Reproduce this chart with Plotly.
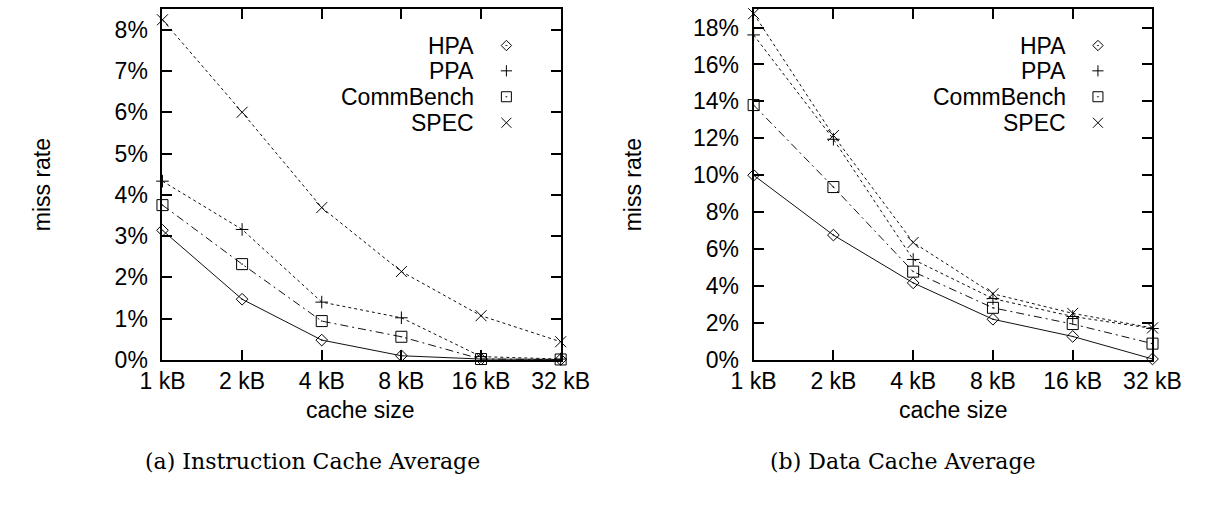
import plotly.graph_objects as go

# Cache sizes on the x axis
cache_sizes = ["1 kB", "2 kB", "4 kB", "8 kB", "16 kB", "32 kB"]

# Miss rates (%) - instruction cache average
icache_hpa = [3.14, 1.47, 0.48, 0.10, 0.02, 0.01]
icache_ppa = [4.33, 3.16, 1.40, 1.02, 0.08, 0.02]
icache_commbench = [3.75, 2.32, 0.94, 0.56, 0.02, 0.01]
icache_spec = [8.24, 6.00, 3.69, 2.14, 1.07, 0.44]

# Miss rates (%) - data cache average
dcache_hpa = [10.0, 6.76, 4.17, 2.20, 1.27, 0.05]
dcache_ppa = [17.6, 11.95, 5.44, 3.32, 2.35, 1.70]
dcache_commbench = [13.8, 9.36, 4.78, 2.82, 1.94, 0.88]
dcache_spec = [18.75, 12.15, 6.36, 3.58, 2.52, 1.73]

series_names = ["HPA", "PPA", "CommBench", "SPEC"]

# Y tick values (%)
icache_ticks = [0, 1, 2, 3, 4, 5, 6, 7, 8]
dcache_ticks = [0, 2, 4, 6, 8, 10, 12, 14, 16, 18]

FONT = "Liberation Sans, Arial, sans-serif"
SERIF = "DejaVu Serif, serif"
W, H = 1215, 505

styles = {
    "HPA": dict(symbol="diamond-open-dot", size=9, dash="solid"),
    "PPA": dict(symbol="cross-thin-open", size=9, dash="3px,3px"),
    "CommBench": dict(symbol="square-open-dot", size=11, dash="8px,4px,2px,4px"),
    "SPEC": dict(symbol="x-thin-open", size=11, dash="3px,3px"),
}

xpos = list(range(len(cache_sizes)))

fig = go.Figure()

panels = [
    ("x", "y", [icache_hpa, icache_ppa, icache_commbench, icache_spec]),
    ("x2", "y2", [dcache_hpa, dcache_ppa, dcache_commbench, dcache_spec]),
]

for xa, ya, data in panels:
    for name, vals in zip(series_names, data):
        st = styles[name]
        fig.add_trace(go.Scatter(
            x=xpos, y=vals, xaxis=xa, yaxis=ya, mode="lines+markers",
            name=name, showlegend=False, cliponaxis=False,
            line=dict(color="#111111", width=1, dash=st["dash"]),
            marker=dict(symbol=st["symbol"], size=st["size"], color="black",
                        line=dict(color="black", width=1)),
        ))

# Key: labels right-aligned, symbol to their right (pixel-space axis x3/y3)
key_rows_px = [46.7, 72.7, 99.3, 126.0]
key_panels = [(473, 505), (1092, 1123)]
for text_right, sym_x in key_panels:
    for name, row in zip(series_names, key_rows_px):
        st = styles[name]
        fig.add_trace(go.Scatter(
            x=[sym_x], y=[H - row], xaxis="x3", yaxis="y3", mode="markers",
            showlegend=False, cliponaxis=False, hoverinfo="skip",
            marker=dict(symbol=st["symbol"], size=st["size"] - 1, color="black",
                        line=dict(color="black", width=1)),
        ))
        fig.add_annotation(x=text_right, y=H - row, xref="x3", yref="y3",
                           text=name, showarrow=False, xanchor="right",
                           yanchor="middle", font=dict(family=FONT, size=23, color="black"))

axis_common = dict(
    showline=True, linecolor="black", linewidth=2, mirror="allticks",
    ticks="inside", ticklen=10, tickwidth=2, tickcolor="black",
    showgrid=False, zeroline=False,
    tickfont=dict(family=FONT, size=23, color="black"),
)

ydom = [1 - 369.4 / H, 1 - 9.3 / H]
xdom1 = [145.7 / W, 561.7 / W]
xdom2 = [763.3 / W, 1180.0 / W]

fig.update_layout(
    width=W, height=H,
    margin=dict(l=0, r=0, t=0, b=0),
    paper_bgcolor="white", plot_bgcolor="rgba(0,0,0,0)",
    showlegend=False,
    xaxis=dict(domain=xdom1, range=[0, 5], tickmode="array", tickvals=xpos,
               ticktext=cache_sizes, anchor="y", ticklabelstandoff=0, **axis_common),
    yaxis=dict(domain=ydom, range=[0, 8.5], tickmode="array", tickvals=icache_ticks,
               ticktext=[f"{v}%" for v in icache_ticks], anchor="x",
               ticklabelstandoff=8, **axis_common),
    xaxis2=dict(domain=xdom2, range=[0, 5], tickmode="array", tickvals=xpos,
                ticktext=cache_sizes, anchor="y2", ticklabelstandoff=0, **axis_common),
    yaxis2=dict(domain=ydom, range=[0, 19], tickmode="array", tickvals=dcache_ticks,
                ticktext=[f"{v}%" for v in dcache_ticks], anchor="x2",
                ticklabelstandoff=8, **axis_common),
    # full-figure pixel-space axes for the keys
    xaxis3=dict(domain=[0, 1], range=[0, W], visible=False, anchor="y3"),
    yaxis3=dict(domain=[0, 1], range=[0, H], visible=False, anchor="x3"),
)

# Axis titles and captions
for cx, cy, txt, ang in [
    (20, 190, "miss rate", -90),
    (637.5, 190, "miss rate", -90),
    (353, 421, "cache size", 0),
    (972, 421, "cache size", 0),
]:
    fig.add_annotation(x=cx / W, y=1 - cy / H, xref="paper", yref="paper",
                       text=txt, textangle=ang, showarrow=False,
                       xanchor="center", yanchor="middle",
                       font=dict(family=FONT, size=23, color="black"))

fig.add_annotation(x=125 / W, y=1 - 474 / H, xref="paper", yref="paper",
                   text="(a) Instruction Cache Average", showarrow=False,
                   xanchor="left", yanchor="middle",
                   font=dict(family=SERIF, size=22, color="black"))
fig.add_annotation(x=778 / W, y=1 - 474 / H, xref="paper", yref="paper",
                   text="(b) Data Cache Average", showarrow=False,
                   xanchor="left", yanchor="middle",
                   font=dict(family=SERIF, size=22, color="black"))

fig.write_html("out.html")
